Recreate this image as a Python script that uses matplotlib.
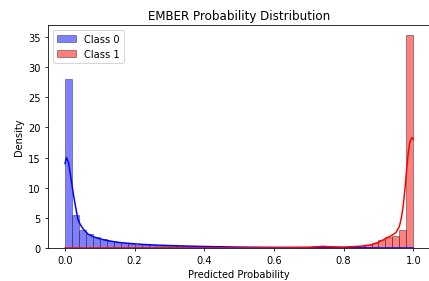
import matplotlib
matplotlib.use('Agg')
import matplotlib.pyplot as plt
import numpy as np

# histogram bins (width 0.02 over [0, 1])
bin_edges = np.linspace(0.0, 1.0, 51)

class0_density = [27.9, 5.45, 3.05, 2.3, 1.85, 1.5, 1.2, 1.0, 0.85, 0.7,
                  0.6, 0.55, 0.5, 0.45, 0.42, 0.4, 0.37, 0.35, 0.33, 0.31,
                  0.29, 0.27, 0.25, 0.24, 0.22, 0.21, 0.2, 0.19, 0.18, 0.17,
                  0.16, 0.16, 0.15, 0.15, 0.15, 0.16, 0.2, 0.25, 0.2, 0.15,
                  0.12, 0.1, 0.09, 0.08, 0.07, 0.06, 0.05, 0.05, 0.05, 0.1]

class1_density = [0.05, 0.04, 0.04, 0.04, 0.04, 0.04, 0.04, 0.04, 0.05, 0.05,
                  0.05, 0.05, 0.05, 0.05, 0.05, 0.05, 0.06, 0.06, 0.06, 0.06,
                  0.07, 0.07, 0.07, 0.07, 0.08, 0.08, 0.08, 0.09, 0.09, 0.1,
                  0.1, 0.11, 0.12, 0.13, 0.15, 0.2, 0.28, 0.3, 0.25, 0.2,
                  0.2, 0.2, 0.25, 0.3, 0.5, 0.85, 1.35, 1.8, 1.95, 3.05]
class1_density[-1] = 35.2
class1_density[-2] = 3.05
class1_density[-3] = 1.95
class1_density[-4] = 1.8
class1_density[-5] = 1.35
class1_density[-6] = 0.85
class1_density[-7] = 0.5
class1_density[-8] = 0.3

# KDE curves
kde0_x = [0.0, 0.004, 0.01, 0.018, 0.023, 0.028, 0.033, 0.037, 0.044, 0.052,
          0.066, 0.08, 0.095, 0.11, 0.124, 0.14, 0.16, 0.19, 0.22, 0.26,
          0.3, 0.35, 0.4, 0.5, 0.6, 0.7, 0.74, 0.78, 0.85, 0.9, 1.0]
kde0_y = [14.0, 15.0, 14.2, 11.2, 9.3, 7.6, 6.0, 4.8, 3.9, 3.2,
          2.35, 1.95, 1.65, 1.42, 1.25, 1.1, 0.93, 0.78, 0.65, 0.54,
          0.45, 0.37, 0.3, 0.2, 0.15, 0.13, 0.18, 0.12, 0.07, 0.05, 0.05]

kde1_x = [0.0, 0.1, 0.2, 0.3, 0.4, 0.5, 0.6, 0.7, 0.72, 0.74, 0.76, 0.8,
          0.85, 0.88, 0.9, 0.92, 0.94, 0.95, 0.96, 0.966, 0.971, 0.976,
          0.981, 0.985, 0.989, 0.993, 0.997, 1.0]
kde1_y = [0.05, 0.05, 0.06, 0.06, 0.07, 0.08, 0.1, 0.15, 0.25, 0.32, 0.25, 0.2,
          0.35, 0.6, 1.0, 1.6, 2.2, 2.6, 3.6, 5.1, 7.0, 9.8,
          13.1, 15.5, 17.2, 18.0, 18.3, 18.0]

labels = ['Class 0', 'Class 1']

fig = plt.figure(figsize=(6.0, 3.944), dpi=71.5)
ax = fig.add_axes([0.111, 0.116, 0.893, 0.793])

widths = np.diff(bin_edges)
b0 = ax.bar(bin_edges[:-1], class0_density, width=widths, align='edge',
            color=(0, 0, 1, 0.5), edgecolor=(0.2, 0.2, 0.2, 0.5), linewidth=1,
            label=labels[0])
b1 = ax.bar(bin_edges[:-1], class1_density, width=widths, align='edge',
            color=(1, 0, 0, 0.5), edgecolor=(0.2, 0.2, 0.2, 0.5), linewidth=1,
            label=labels[1])
ax.plot(kde0_x, kde0_y, color='blue', linewidth=1.5)
ax.plot(kde1_x, kde1_y, color='red', linewidth=1.5)

ax.set_xlim(-0.05, 1.05)
ax.set_ylim(0, 36.96)
ax.set_title('EMBER Probability Distribution', fontsize=12)
ax.set_xlabel('Predicted Probability')
ax.set_ylabel('Density')
ax.legend(handles=[b0, b1], labels=labels, loc='upper left')

fig.savefig('out.png', dpi=71.5)
